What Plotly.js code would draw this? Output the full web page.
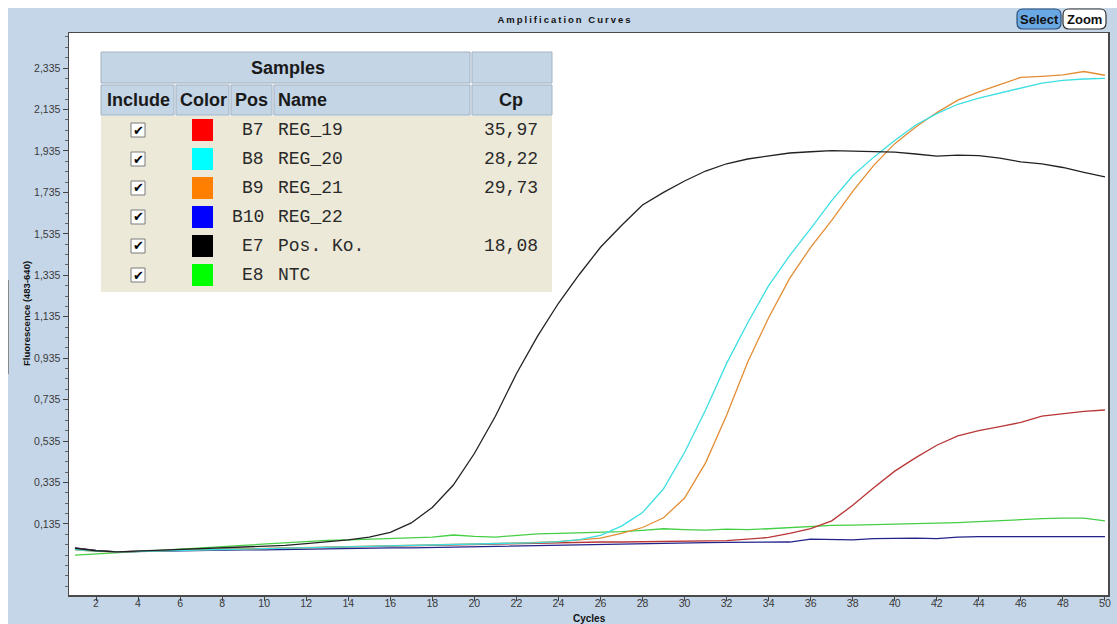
<!DOCTYPE html>
<html><head><meta charset="utf-8">
<script src="https://cdn.plot.ly/plotly-3.0.1.min.js"></script>
<style>
html,body{margin:0;padding:0;background:#fff;}
#chart{width:1117px;height:624px;}
.gtitle{letter-spacing:2px;}
</style>
</head><body><div id="chart"></div>
<script>
// ---- data ----
const cycles = [1,2,3,4,5,6,7,8,9,10,11,12,13,14,15,16,17,18,19,20,21,22,23,24,25,26,27,28,29,30,31,32,33,34,35,36,37,38,39,40,41,42,43,44,45,46,47,48,49,50];
const reg19 = [0.018,0.006,0.0,0.004,0.006,0.008,0.010,0.013,0.016,0.018,0.020,0.022,0.024,0.026,0.028,0.030,0.032,0.034,0.036,0.038,0.040,0.042,0.043,0.044,0.046,0.048,0.048,0.049,0.050,0.052,0.053,0.055,0.062,0.070,0.090,0.113,0.150,0.225,0.310,0.390,0.455,0.515,0.560,0.585,0.605,0.625,0.655,0.668,0.678,0.685];
const reg20 = [0.012,0.004,0.0,0.003,0.006,0.008,0.010,0.012,0.014,0.016,0.018,0.020,0.022,0.024,0.026,0.028,0.030,0.032,0.034,0.036,0.039,0.042,0.045,0.050,0.060,0.080,0.125,0.190,0.305,0.480,0.685,0.910,1.105,1.285,1.430,1.560,1.695,1.815,1.905,1.985,2.060,2.115,2.160,2.190,2.214,2.238,2.262,2.275,2.282,2.285];
const reg21 = [0.010,0.003,0.0,0.004,0.007,0.009,0.011,0.013,0.015,0.017,0.019,0.021,0.023,0.025,0.027,0.029,0.031,0.033,0.035,0.037,0.040,0.043,0.046,0.050,0.057,0.067,0.090,0.118,0.165,0.260,0.430,0.660,0.915,1.130,1.320,1.470,1.600,1.740,1.865,1.970,2.050,2.120,2.180,2.220,2.255,2.290,2.295,2.302,2.318,2.300];
const reg22 = [0.020,0.008,0.0,0.002,0.004,0.006,0.006,0.008,0.010,0.010,0.012,0.014,0.016,0.018,0.018,0.020,0.020,0.022,0.022,0.024,0.026,0.028,0.030,0.032,0.034,0.037,0.040,0.042,0.043,0.044,0.045,0.046,0.046,0.047,0.048,0.062,0.060,0.058,0.064,0.067,0.067,0.064,0.072,0.074,0.074,0.074,0.074,0.074,0.074,0.074];
const posKo = [0.018,0.006,0.0,0.004,0.008,0.011,0.014,0.018,0.022,0.027,0.032,0.040,0.048,0.058,0.072,0.095,0.140,0.215,0.323,0.475,0.655,0.860,1.040,1.200,1.340,1.470,1.575,1.674,1.735,1.790,1.838,1.873,1.896,1.912,1.925,1.931,1.936,1.934,1.931,1.929,1.920,1.910,1.915,1.912,1.900,1.882,1.872,1.855,1.832,1.810];
const ntc = [-0.015,-0.010,-0.005,0.0,0.008,0.014,0.020,0.027,0.033,0.040,0.046,0.052,0.056,0.058,0.062,0.065,0.067,0.072,0.082,0.075,0.072,0.080,0.087,0.090,0.092,0.094,0.098,0.104,0.112,0.108,0.105,0.110,0.108,0.112,0.118,0.122,0.128,0.130,0.132,0.134,0.137,0.140,0.142,0.146,0.152,0.158,0.161,0.163,0.163,0.150];

const sampleSeries = [reg19, reg20, reg21, reg22, posKo, ntc];
const samplePos = ['B7','B8','B9','B10','E7','E8'];
const sampleNames = ['REG_19','REG_20','REG_21','REG_22','Pos. Ko.','NTC'];
const sampleCp = ['35,97','28,22','29,73','','18,08',''];
const swatchColors = ['#ff0000','#00ffff','#ff8000','#0000ff','#000000','#00ff00'];
const lineColors = ['#b83636','#3cdfe2','#e38d35','#23238c','#222222','#45cf45'];
const tableHeaders = ['Include','Color','Pos','Name','Cp'];
const yTickVals = [0.135,0.335,0.535,0.735,0.935,1.135,1.335,1.535,1.735,1.935,2.135,2.335];
const xTickVals = [2,4,6,8,10,12,14,16,18,20,22,24,26,28,30,32,34,36,38,40,42,44,46,48,50];

// ---- geometry helpers (pixel -> paper) ----
const L=69, R=1108, T=33, B=595;
const X = p => (p-L)/(R-L);
const Y = p => (B-p)/(B-T);

const shapes = [];
const annotations = [];
function rect(x0,y0,x1,y1,fill,lc,lw,layer){
  shapes.push({type:'rect',xref:'paper',yref:'paper',x0:X(x0),x1:X(x1),y0:Y(y0),y1:Y(y1),
    fillcolor:fill,line:{color:lc||fill,width:lw===undefined?0:lw},layer:layer||'above'});
}
function line(x0,y0,x1,y1,c,w,layer){
  shapes.push({type:'line',xref:'paper',yref:'paper',x0:X(x0),x1:X(x1),y0:Y(y0),y1:Y(y1),
    line:{color:c,width:w},layer:layer||'above'});
}
function roundRect(x0,y0,x1,y1,r,fill,lc,lw){
  const p=(x,y)=>X(x).toFixed(5)+','+Y(y).toFixed(5);
  const d='M'+p(x0+r,y0)+' L'+p(x1-r,y0)+' Q'+p(x1,y0)+' '+p(x1,y0+r)+' L'+p(x1,y1-r)+' Q'+p(x1,y1)+' '+p(x1-r,y1)+
    ' L'+p(x0+r,y1)+' Q'+p(x0,y1)+' '+p(x0,y1-r)+' L'+p(x0,y0+r)+' Q'+p(x0,y0)+' '+p(x0+r,y0)+' Z';
  shapes.push({type:'path',xref:'paper',yref:'paper',path:d,fillcolor:fill,line:{color:lc,width:lw},layer:'above'});
}
function text(t,x,y,anchor,font,angle){
  annotations.push({text:t,xref:'paper',yref:'paper',x:X(x),y:Y(y),xanchor:anchor,yanchor:'middle',
    showarrow:false,font:font,borderpad:0,textangle:angle||0});
}

// white outer strips
rect(0,0,1117,8,'#ffffff',null,0,'below');
rect(0,0,8,624,'#ffffff',null,0,'below');
line(8.5,280,8.5,374,'#8a8a8a',1,'below');

// ---- sample table ----
const hdrFont = {family:'Liberation Sans, Arial, sans-serif',size:18,color:'#1a1a1a',weight:'bold'};
const monoFont = {family:'Liberation Mono, Courier New, monospace',size:18,color:'#2a2a2a'};
rect(101,52,552,116,'#eef2f6');
rect(101,52,470,83,'#c4d5e6','#a3b3c3',1);
rect(472,52,552,83,'#c4d5e6','#a3b3c3',1);
const colEdges = [[101,174],[176,229],[231,272],[274,470],[472,552]];
colEdges.forEach(e=>rect(e[0],85,e[1],115,'#c4d5e6','#a3b3c3',1));
rect(101,116,552,292,'#ece9d8');
text('<b>Samples</b>',288,68,'center',hdrFont);
text('<b>'+tableHeaders[0]+'</b>',138,100,'center',hdrFont);
text('<b>'+tableHeaders[1]+'</b>',203,100,'center',hdrFont);
text('<b>'+tableHeaders[2]+'</b>',251,100,'center',hdrFont);
text('<b>'+tableHeaders[3]+'</b>',277,100,'left',hdrFont);
text('<b>'+tableHeaders[4]+'</b>',511,100,'center',hdrFont);
sampleNames.forEach((n,i)=>{
  const ry = 130 + i*29;
  rect(131,ry-7,145,ry+7,'#ffffff','#7a7a7a',1);
  text('✔',138,ry,'center',{family:'DejaVu Sans, sans-serif',size:13,color:'#000'});
  rect(192,ry-11,213,ry+11,swatchColors[i]);
  text(samplePos[i],265,ry,'right',monoFont);
  text(n,277,ry,'left',monoFont);
  if(sampleCp[i]) text(sampleCp[i],539,ry,'right',monoFont);
});

// ---- buttons ----
roundRect(1017,9,1061,29,6,'#6aa8e4','#2c4f78',1.2);
roundRect(1063,9,1106,29,6,'#ffffff','#333333',1.2);
text('<b>Select</b>',1039,19.5,'center',{family:'Liberation Sans, Arial, sans-serif',size:13,color:'#111'});
text('<b>Zoom</b>',1084.5,19.5,'center',{family:'Liberation Sans, Arial, sans-serif',size:13,color:'#111'});

// ---- axis titles ----
text('<b>Cycles</b>',589,618,'center',{family:'Liberation Sans, Arial, sans-serif',size:10,color:'#111'});
text('<b>Fluorescence (483-640)</b>',26,314,'center',{family:'Liberation Sans, Arial, sans-serif',size:9.5,color:'#111'},-90);

// ---- traces ----
const order = [5,3,0,2,1,4];
const traces = order.map(i=>({
  x: cycles, y: sampleSeries[i], type:'scatter', mode:'lines', name: sampleNames[i],
  line:{color: lineColors[i], width:1.3}, hoverinfo:'skip'
}));

const tickFont = {family:'Liberation Sans, Arial, sans-serif',size:10.5,color:'#3a3a3a'};
const layout = {
  width:1117, height:624,
  paper_bgcolor:'#c5d6e8', plot_bgcolor:'#ffffff',
  margin:{l:L, r:1117-R, t:T, b:624-B, pad:0},
  separators:',.',
  showlegend:false,
  title:{text:'<b>Amplification Curves</b>', x:565/1117, xanchor:'center', y:1-20/624, yanchor:'middle',
    font:{family:'Liberation Sans, Arial, sans-serif',size:9.5,color:'#111'}},
  xaxis:{range:[0.7155,50.145], tickmode:'array', tickvals:xTickVals, ticks:'outside', ticklen:4, tickcolor:'#444',
    ticklabelstandoff:-6,
    showgrid:false, zeroline:false, showline:true, mirror:true, linecolor:'#4a4a4a', linewidth:1.5,
    tickfont:{family:'Liberation Sans, Arial, sans-serif',size:10.5,color:'#3a3a3a'}, automargin:false},
  yaxis:{range:[-0.2076,2.5039], tickmode:'array', tickvals:yTickVals, tickformat:'.3f', ticks:'outside', ticklen:5, tickcolor:'#444',
    minor:{tickmode:'linear', ticks:'outside', ticklen:3, dtick:0.05, tick0:0.135, tickcolor:'#666'},
    showgrid:false, zeroline:false, showline:true, mirror:true, linecolor:'#4a4a4a', linewidth:1.5,
    tickfont:tickFont, automargin:false},
  shapes:shapes, annotations:annotations
};
Plotly.newPlot('chart', traces, layout, {displayModeBar:false, staticPlot:true});
</script>
</body></html>
